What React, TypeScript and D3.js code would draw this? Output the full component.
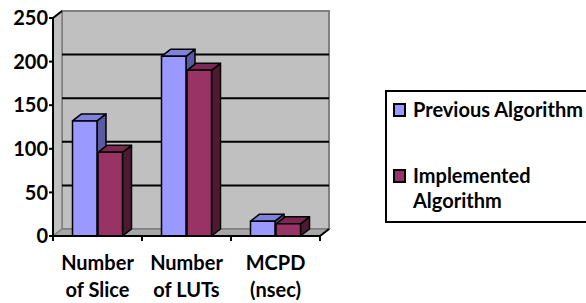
import { useRef, useEffect } from "react";
import * as d3 from "d3";

const categories = [["Number", "of Slice"], ["Number", "of LUTs"], ["MCPD", "(nsec)"]];
const seriesNames = ["Previous Algorithm", "Implemented Algorithm"];
const previous = [132, 206, 17];
const implemented = [96, 190, 14];
const yTicks = [0, 50, 100, 150, 200, 250];

const faces = [
  { front: "#9999ff", top: "#8080dd", side: "#5a5aa0" },
  { front: "#993366", top: "#7a2852", side: "#4c1a33" },
];

export default function App() {
  const ref = useRef<SVGSVGElement>(null);

  useEffect(() => {
    if (!ref.current) return;
    const W = 586, H = 303;
    const svg = d3.select(ref.current);
    svg.selectAll("*").remove();
    svg.attr("width", W).attr("height", H);

    const font = "Lato, 'Open Sans', sans-serif";
    const dx = 9, dy = -7;
    const y = d3.scaleLinear().domain([0, 250]).range([236, 18]);
    const x = d3.scaleBand<number>().domain(d3.range(categories.length)).range([53, 320]);
    const inner = d3.scaleBand<number>().domain([0, 1]).range([0, 50]).paddingInner(0.04);
    const x0 = x(0)!, x1 = x.range()[1];

    // back wall
    svg.append("rect")
      .attr("x", x0 + dx).attr("y", y(250) + dy)
      .attr("width", x1 - x0).attr("height", y(0) - y(250))
      .attr("fill", "#c0c0c0").attr("stroke", "#808080").attr("stroke-width", 2);
    // side wall
    svg.append("path")
      .attr("d", `M${x0},${y(0)}L${x0},${y(250)}L${x0 + dx},${y(250) + dy}L${x0 + dx},${y(0) + dy}Z`)
      .attr("fill", "#c0c0c0").attr("stroke", "#808080").attr("stroke-width", 1.5);
    // floor
    svg.append("path")
      .attr("d", `M${x0},${y(0)}L${x0 + dx},${y(0) + dy}L${x1 + dx},${y(0) + dy}L${x1},${y(0)}Z`)
      .attr("fill", "#a6a6a6").attr("stroke", "#808080").attr("stroke-width", 1.5);

    // gridlines
    svg.append("g").selectAll("line")
      .data(yTicks.filter((t) => t > 0 && t < 250))
      .join("line")
      .attr("x1", x0 + dx).attr("x2", x1 + dx)
      .attr("y1", (d) => y(d) + dy).attr("y2", (d) => y(d) + dy)
      .attr("stroke", "#000").attr("stroke-width", 2);

    // bars
    const values = [previous, implemented];
    const g = svg.append("g").attr("stroke", "#000").attr("stroke-width", 1.5).attr("stroke-linejoin", "round");
    categories.forEach((_, ci) => {
      const start = x(ci)! + (x.bandwidth() - 50) / 2;
      values.forEach((vals, si) => {
        const bx = start + inner(si)!;
        const bw = inner.bandwidth();
        const top = y(vals[ci]);
        const base = y(0);
        const c = faces[si];
        g.append("path")
          .attr("d", `M${bx + bw},${base}L${bx + bw + dx},${base + dy}L${bx + bw + dx},${top + dy}L${bx + bw},${top}Z`)
          .attr("fill", c.side);
        g.append("path")
          .attr("d", `M${bx},${top}L${bx + dx},${top + dy}L${bx + bw + dx},${top + dy}L${bx + bw},${top}Z`)
          .attr("fill", c.top);
        g.append("rect")
          .attr("x", bx).attr("y", top).attr("width", bw).attr("height", base - top)
          .attr("fill", c.front);
      });
    });

    // axes
    const ax = svg.append("g").attr("stroke", "#000").attr("stroke-width", 2);
    ax.append("line").attr("x1", x0).attr("x2", x0).attr("y1", y(250)).attr("y2", y(0));
    ax.append("line").attr("x1", x0).attr("x2", x1).attr("y1", y(0)).attr("y2", y(0));
    ax.append("line").attr("x1", x1).attr("x2", x1 + dx).attr("y1", y(0)).attr("y2", y(0) + dy);
    ax.append("line").attr("x1", x0).attr("x2", x0 + dx).attr("y1", y(250)).attr("y2", y(250) + dy);
    ax.selectAll(".yt").data(yTicks).join("line")
      .attr("x1", x0 - 4).attr("x2", x0).attr("y1", (d) => y(d)).attr("y2", (d) => y(d));
    ax.selectAll(".xt").data(d3.range(categories.length + 1)).join("line")
      .attr("x1", (d) => x0 + d * x.bandwidth()).attr("x2", (d) => x0 + d * x.bandwidth())
      .attr("y1", y(0)).attr("y2", y(0) + 5);

    svg.append("g").selectAll("text").data(yTicks).join("text")
      .attr("x", x0 - 5).attr("y", (d) => y(d)).attr("dy", "0.36em")
      .attr("text-anchor", "end").attr("font-family", font).attr("font-weight", 700)
      .attr("font-size", 20).attr("fill", "#000")
      .text((d) => d);

    const xl = svg.append("g").selectAll("text").data(categories).join("text")
      .attr("text-anchor", "middle").attr("font-family", font).attr("font-weight", 700)
      .attr("font-size", 20).attr("fill", "#000");
    xl.each(function (d, i) {
      const t = d3.select(this);
      d.forEach((line, li) => {
        t.append("tspan").attr("x", x(i)! + x.bandwidth() / 2).attr("y", 270 + li * 27).text(line);
      });
    });

    // legend
    svg.append("rect").attr("x", 386).attr("y", 91).attr("width", 220).attr("height", 131)
      .attr("fill", "#fff").attr("stroke", "#000").attr("stroke-width", 2);
    const legendLines = [[seriesNames[0]], ["Implemented", "Algorithm"]];
    legendLines.forEach((lines, i) => {
      const ly = 117 + i * 66;
      svg.append("rect").attr("x", 394).attr("y", ly - 13).attr("width", 11).attr("height", 12)
        .attr("fill", faces[i].front).attr("stroke", "#000").attr("stroke-width", 2);
      lines.forEach((line, li) => {
        svg.append("text").attr("x", 413).attr("y", ly + li * 25)
          .attr("font-family", font).attr("font-weight", 700).attr("font-size", 20)
          .attr("fill", "#000").text(line);
      });
    });
  }, []);

  return <svg ref={ref} style={{ position: "absolute", left: 0, top: 0 }} />;
}
